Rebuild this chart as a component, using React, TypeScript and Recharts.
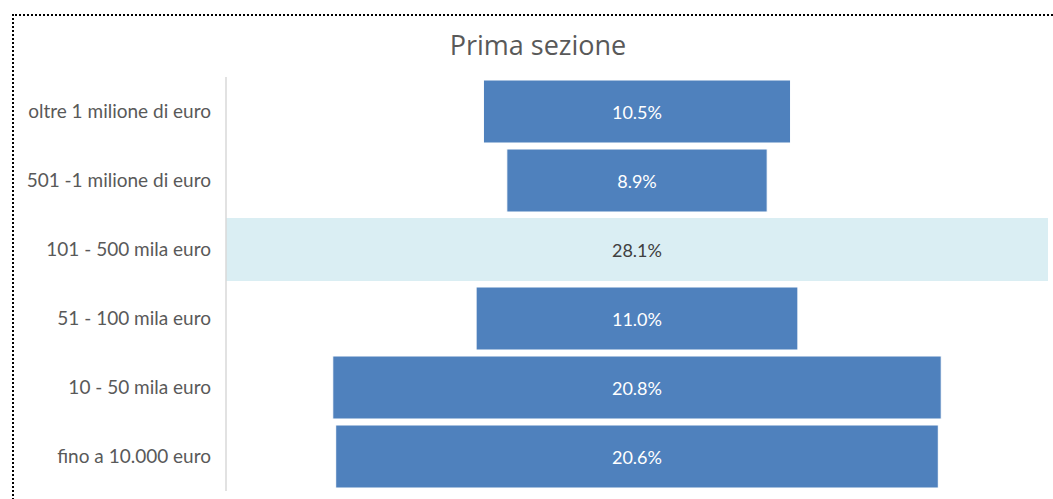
import { BarChart, Bar, XAxis, YAxis, Cell } from "recharts";

const categories = [
  "oltre 1 milione di euro",
  "501 -1 milione di euro",
  "101 - 500 mila euro",
  "51 - 100 mila euro",
  "10 - 50 mila euro",
  "fino a 10.000 euro",
];
const shares = [10.5, 8.9, 28.1, 11.0, 20.8, 20.6];
const highlighted = "101 - 500 mila euro";

const MAX = Math.max(...shares);

// funnel: an invisible spacer bar centres each value bar
const data = categories.map((name, i) => ({
  name,
  pad: (MAX - shares[i]) / 2,
  value: shares[i],
}));

const BLUE = "#4f81bd";
const LIGHT = "#daeef3";

function ValueLabel(props: any) {
  const { x, y, width, height, index } = props;
  const isHi = categories[index] === highlighted;
  return (
    <text
      x={x + width / 2}
      y={y + height / 2}
      textAnchor="middle"
      dominantBaseline="central"
      fill={isHi ? "#404040" : "#ffffff"}
      fontSize={18}
      fontFamily="Lato, sans-serif"
    >
      {shares[index].toFixed(1)}%
    </text>
  );
}

export default function App() {
  return (
    <div
      style={{
        position: "absolute",
        left: 0,
        top: 0,
        width: 1053,
        height: 499,
        background: "#fff",
        overflow: "hidden",
      }}
    >
      <div
        style={{
          position: "absolute",
          left: 12,
          top: 14,
          width: 1039,
          height: 520,
          borderLeft: "2px dotted #000",
          borderTop: "2px dotted #000",
        }}
      />
      <div
        style={{
          position: "absolute",
          left: 0,
          width: 1076,
          top: 26,
          textAlign: "center",
          fontFamily: "'Open Sans', sans-serif",
          fontSize: 27,
          color: "#595959",
        }}
      >
        Prima sezione
      </div>
      <div style={{ position: "absolute", left: 0, top: 0 }}>
        <BarChart
          width={1053}
          height={499}
          data={data}
          layout="vertical"
          margin={{ top: 77, right: 5, bottom: 8, left: 0 }}
          barCategoryGap={3}
        >
          <XAxis type="number" hide domain={[0, MAX]} />
          <YAxis
            type="category"
            dataKey="name"
            width={226}
            tickLine={false}
            axisLine={{ stroke: "#d9d9d9", strokeWidth: 1.5 }}
            tickMargin={9}
            tick={{ fill: "#595959", fontSize: 19, fontFamily: "Lato, sans-serif" }}
          />
          <Bar dataKey="pad" stackId="f" fill="transparent" isAnimationActive={false} />
          <Bar
            dataKey="value"
            stackId="f"
            isAnimationActive={false}
            label={<ValueLabel />}
          >
            {data.map((d) => (
              <Cell
                key={d.name}
                fill={d.name === highlighted ? LIGHT : BLUE}
                stroke={d.name === highlighted ? "none" : "#ffffff"}
                strokeWidth={1}
              />
            ))}
          </Bar>
        </BarChart>
      </div>
    </div>
  );
}
